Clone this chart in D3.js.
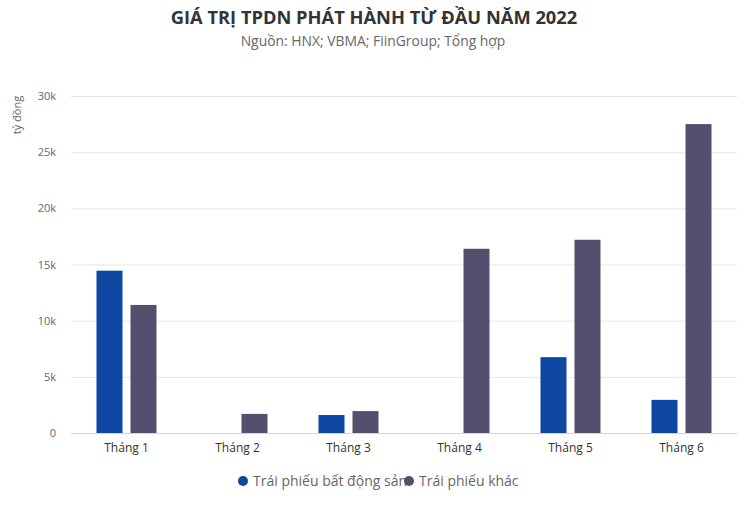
<!DOCTYPE html>
<html><head><meta charset="utf-8">
<script src="https://cdn.jsdelivr.net/npm/d3@7"></script>
<style>body{margin:0;background:#fff}svg{display:block;font-family:"Open Sans","Noto Sans",sans-serif}</style>
</head><body><svg id="c" width="746" height="508"></svg>
<script>
const categories = ["Tháng 1","Tháng 2","Tháng 3","Tháng 4","Tháng 5","Tháng 6"];
const seriesNames = ["Trái phiếu bất động sản","Trái phiếu khác"];
const bdsValues = [14450, 0, 1600, 0, 6750, 2950];
const khacValues = [11400, 1700, 1950, 16400, 17200, 27500];
const yTicks = [0,5000,10000,15000,20000,25000,30000];
const colors = ["#0d47a1","#544f6f"];

const svg = d3.select("#c");
const m = {l:71, r:737, t:96, b:433};
const x = d3.scaleBand().domain(categories).range([m.l,m.r]);
const barW = 26, gap = 8, groupW = 2*barW + gap;
const y = d3.scaleLinear().domain([0,30000]).range([m.b,m.t]);

svg.append("text").attr("x",374).attr("y",24).attr("text-anchor","middle")
  .attr("font-size",18.3).attr("font-weight","bold").attr("fill","#333").text("GIÁ TRỊ TPDN PHÁT HÀNH TỪ ĐẦU NĂM 2022");
svg.append("text").attr("x",373).attr("y",46).attr("text-anchor","middle")
  .attr("font-size",13.9).attr("fill","#666").text("Nguồn: HNX; VBMA; FiinGroup; Tổng hợp");

const yAxis = d3.axisLeft(y).tickValues(yTicks).tickSize(-(m.r-m.l)).tickPadding(15)
  .tickFormat(d => d===0 ? "0" : (d/1000)+"k");
const ga = svg.append("g").attr("transform",`translate(${m.l},0)`).call(yAxis);
ga.select(".domain").remove();
ga.selectAll("line").attr("stroke","#e6e6e6");
ga.selectAll("text").attr("fill","#666").attr("font-size",11).attr("font-family","Open Sans, sans-serif");

svg.append("text").attr("transform","translate(21,115) rotate(-90)").attr("text-anchor","middle")
  .attr("font-size",11).attr("fill","#666").text("tỷ đồng");

const data = categories.map((c,i)=>({c, v:[bdsValues[i], khacValues[i]]}));
const g = svg.append("g");
data.forEach(d=>{
  d.v.forEach((v,j)=>{
    if(!v) return;
    g.append("rect").attr("x", x(d.c) + (x.bandwidth()-groupW)/2 + j*(barW+gap)).attr("width", barW)
      .attr("y", y(v)).attr("height", y(0)-y(v)).attr("fill", colors[j]);
  });
});

const xa = svg.append("g").attr("transform",`translate(0,${m.b})`).call(d3.axisBottom(x).tickSize(0).tickPadding(10));
xa.select(".domain").attr("stroke","#ccd6eb");
xa.selectAll("text").attr("fill","#333").attr("font-size",12).attr("font-family","Open Sans, sans-serif");

const lg = svg.append("g");
const lx = [243, 409];
seriesNames.forEach((n,i)=>{
  lg.append("circle").attr("cx",lx[i]).attr("cy",481).attr("r",5).attr("fill",colors[i]);
  lg.append("text").attr("x",lx[i]+10).attr("y",486).attr("font-size",14).attr("fill","#666").text(n);
});
</script></body></html>
